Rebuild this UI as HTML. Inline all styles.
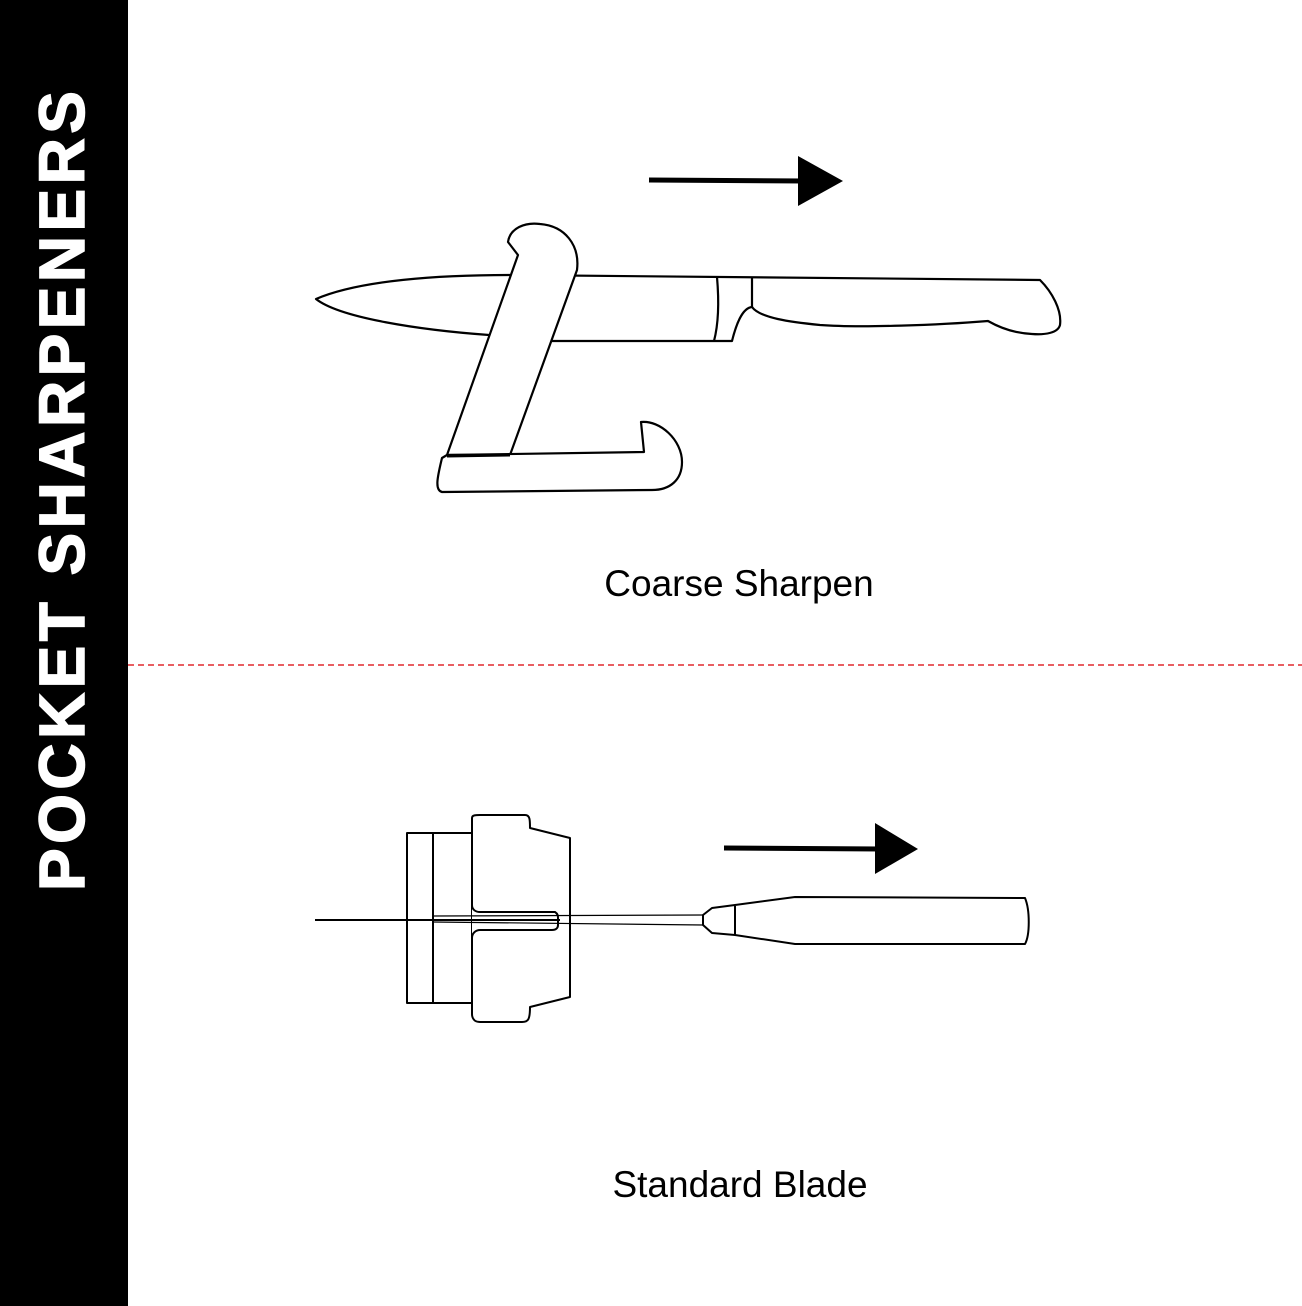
<!DOCTYPE html>
<html><head><style>
html,body{margin:0;padding:0;background:#fff;}
svg{display:block;}
</style></head><body>
<svg width="1302" height="1306" viewBox="0 0 1302 1306" xmlns="http://www.w3.org/2000/svg">
<rect x="0" y="0" width="1302" height="1306" fill="#fff"/>
<rect x="0" y="0" width="128" height="1306" fill="#000"/>
<text transform="translate(84,891) rotate(-90)" font-family="Liberation Sans, sans-serif" font-weight="bold" font-size="64" fill="#fff" stroke="#fff" stroke-width="1.5" textLength="800" lengthAdjust="spacing">POCKET  SHARPENERS</text>
<line x1="128" y1="665" x2="1302" y2="665" stroke="#e0282e" stroke-width="1.6" stroke-dasharray="6,4"/>

<g fill="none" stroke="#000" stroke-width="2.2" stroke-linejoin="round">
<!-- top knife -->
<path d="M316,299 C360,280 440,275 510,275 L1040,280 C1052,292 1062,310 1060,325 C1058,333 1045,335 1032,334 C1010,333 995,325 988,321 C940,325 860,328 820,325 C790,322 760,318 752,307 C742,308 736,325 732,341 L550,341 L489,335 C420,330 340,318 316,299 Z" fill="#fff"/>
<path d="M717,277 C719,300 719,322 714,341 M752,277 L752,307"/>
<!-- rod -->
<path d="M518,255 L508,242 C510,228 525,222 540,224 C565,226 580,245 577,270 L510,455 L447,455 Z" fill="#fff"/>
<path d="M447,455 L644,452 L641,422 C660,420 682,440 682,462 C682,480 670,490 652,490 L442,492 C434,490 438,475 442,458 Z" fill="#fff"/>
<line x1="447" y1="456" x2="510" y2="455" stroke-width="3"/>
</g>
<!-- arrows -->
<line x1="649" y1="180" x2="805" y2="181" stroke="#000" stroke-width="5"/>
<polygon points="798,156 843,181 798,206" fill="#000"/>
<line x1="724" y1="848" x2="880" y2="849" stroke="#000" stroke-width="5"/>
<polygon points="875,823 918,849 875,874" fill="#000"/>

<g fill="#fff" stroke="#000" stroke-width="2" stroke-linejoin="round">
<rect x="407" y="833" width="66" height="170"/>
<line x1="433" y1="833" x2="433" y2="1003"/>
<path d="M472,818 C472,815 476,815 480,815 L525,815 C530,815 530,820 530,828 L570,838 L570,997 L530,1007 C530,1020 528,1022 522,1022 L480,1022 C474,1022 472,1018 472,1014 Z"/>
<path d="M472,905 C472,910 476,912 480,912 L555,912 C558,914 558,916 558,918 L558,925 C558,928 556,930 552,930 L480,930 C476,930 472,933 472,938" />
<path d="M1025,898 C1030,910 1030,935 1025,944 L795,944 L735,935 L712,933 L703,925 L703,915 L712,908 L735,905 L795,897 Z"/>
<line x1="735" y1="906" x2="735" y2="935"/>
</g>
<line x1="315" y1="920" x2="560" y2="920" stroke="#000" stroke-width="2"/>
<path d="M433,916 L703,915 M433,922 L703,925" stroke="#000" stroke-width="1.2" fill="none"/>

<text x="739" y="596" text-anchor="middle" font-family="Liberation Sans, sans-serif" font-size="37" fill="#000">Coarse Sharpen</text>
<text x="740" y="1197" text-anchor="middle" font-family="Liberation Sans, sans-serif" font-size="37" fill="#000">Standard Blade</text>
</svg>
</body></html>
